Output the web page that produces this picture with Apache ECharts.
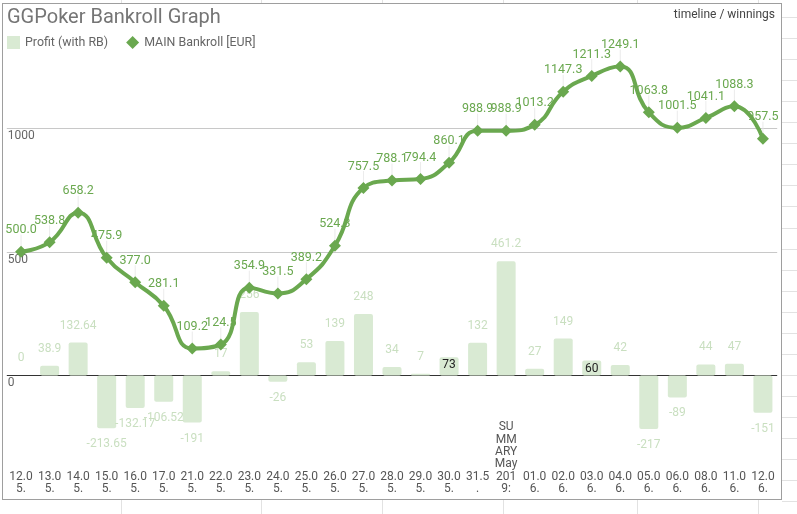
<!DOCTYPE html>
<html>
<head>
<meta charset="utf-8">
<title>GGPoker Bankroll Graph</title>
<script src="https://cdn.jsdelivr.net/npm/echarts@6/dist/echarts.min.js"></script>
<style>
	html, body { margin: 0; padding: 0; background: #fff; }
	body { position: relative; width: 797px; height: 514px; overflow: hidden; font-family: Roboto, sans-serif; }
	.cell-v { position: absolute; top: 0; width: 1px; height: 514px; background: #e2e2e2; }
	.cell-h { position: absolute; left: 782px; width: 15px; height: 1px; background: #e2e2e2; }
	#frame { position: absolute; left: 2px; top: 3px; width: 780px; height: 497px; box-sizing: border-box;
		border: 1px solid #9e9e9e; background: #fff; z-index: 2; }
	#chart { width: 778px; height: 495px; }
</style>
</head>
<body>
<div id="frame"><div id="chart"></div></div>
<script>
// dates of the sessions
var categories = [ '12.05.', '13.05.', '14.05.', '15.05.', '16.05.', '17.05.', '21.05.', '22.05.', '23.05.',
	'24.05.', '25.05.', '26.05.', '27.05.', '28.05.', '29.05.', '30.05.', '31.5.', 'SUMMARY May 2019:',
	'01.06.', '02.06.', '03.06.', '04.06.', '05.06.', '06.06.', '08.06.', '11.06.', '12.06.' ];
// labels as they are wrapped in the picture
var tickLabels = [ '12.0\n5.', '13.0\n5.', '14.0\n5.', '15.0\n5.', '16.0\n5.', '17.0\n5.', '21.0\n5.', '22.0\n5.', '23.0\n5.',
	'24.0\n5.', '25.0\n5.', '26.0\n5.', '27.0\n5.', '28.0\n5.', '29.0\n5.', '30.0\n5.', '31.5\n.', 'SU\nMM\nARY\nMay\n201\n9:',
	'01.0\n6.', '02.0\n6.', '03.0\n6.', '04.0\n6.', '05.0\n6.', '06.0\n6.', '08.0\n6.', '11.0\n6.', '12.0\n6.' ];
// Profit (with RB)
var profit = [ 0, 38.9, 132.64, -213.65, -132.17, -106.52, -191, 17, 256,
	-26, 53, 139, 248, 34, 7, 73, 132, 461.2,
	27, 149, 60, 42, -217, -89, 44, 47, -151 ];
// MAIN Bankroll [EUR]
var bankroll = [ 500.0, 538.8, 658.2, 475.9, 377.0, 281.1, 109.2, 124.5, 354.9,
	331.5, 389.2, 524.3, 757.5, 788.1, 794.4, 860.1, 988.9, 988.9,
	1013.2, 1147.3, 1211.3, 1249.1, 1063.8, 1001.5, 1041.1, 1088.3, 957.5 ];
// bars whose label sits inside the bar
var insideLabel = [ 15, 20 ];

// spreadsheet cells behind the chart
var sheetCols = [ 121, 261, 382, 503, 637, 758 ];
for (var c = 0; c < sheetCols.length; c++) {
	var v = document.createElement('div');
	v.className = 'cell-v';
	v.style.left = sheetCols[c] + 'px';
	document.body.appendChild(v);
}
for (var r = 17; r < 514; r += 21.05) {
	var h = document.createElement('div');
	h.className = 'cell-h';
	h.style.top = Math.round(r) + 'px';
	document.body.appendChild(h);
}

var green = '#6aa84f';
var light = '#d9ead3';

var barData = [];
for (var i = 0; i < profit.length; i++) {
	var item = { value: profit[i] };
	if (insideLabel.indexOf(i) >= 0) {
		item.label = { position: 'insideTop', distance: 2, color: '#222' };
	} else if (profit[i] < 0) {
		item.label = { position: 'bottom', distance: 10 };
	}
	barData.push(item);
}

var chart = echarts.init(document.getElementById('chart'));
var option = {
	animation : false,
	title : [ {
		text : 'GGPoker Bankroll Graph',
		left : 4,
		top : 4,
		padding : 0,
		textStyle : { fontFamily : 'Roboto', fontSize : 20, fontWeight : 'normal', color : '#757575' }
	}, {
		text : 'timeline / winnings',
		right : 6,
		top : 5,
		padding : 0,
		textStyle : { fontFamily : 'Roboto', fontSize : 12, fontWeight : 'normal', color : '#444' }
	} ],
	legend : {
		left : 4,
		top : 32,
		padding : 0,
		itemWidth : 13,
		itemHeight : 13,
		itemGap : 18,
		textStyle : { fontFamily : 'Roboto', fontSize : 12.4, color : '#666' },
		data : [ { name : 'Profit (with RB)', icon : 'rect' }, { name : 'MAIN Bankroll [EUR]', icon : 'diamond' } ]
	},
	grid : {
		left : 3.8,
		top : 0.5,
		width : 770.4,
		height : 496,
		containLabel : false
	},
	xAxis : {
		type : 'category',
		data : categories,
		axisLine : { show : false },
		axisTick : { show : false },
		axisLabel : {
			inside : true,
			interval : 0,
			margin : 4,
			verticalAlign : 'bottom',
			fontFamily : 'Roboto',
			fontSize : 12,
			lineHeight : 12.3,
			color : '#555',
			formatter : function(val, idx) {
				return tickLabels[idx];
			}
		}
	},
	yAxis : {
		type : 'value',
		min : -500,
		max : 1500,
		interval : 500,
		axisLine : { show : false },
		axisTick : { show : false },
		splitLine : {
			lineStyle : { color : [ 'rgba(0,0,0,0)', '#333', '#c8c8c8', '#c8c8c8', 'rgba(0,0,0,0)' ], width : 1 }
		},
		axisLabel : {
			inside : true,
			margin : 1,
			verticalAlign : 'top',
			padding : [ 2, 0, 0, 0 ],
			fontFamily : 'Roboto',
			fontSize : 12,
			color : '#666',
			formatter : function(val) {
				return (val < 0 || val > 1000) ? '' : val;
			}
		}
	},
	series : [ {
		name : 'Profit (with RB)',
		type : 'bar',
		data : barData,
		barWidth : 19,
		itemStyle : { color : light, borderRadius : 2 },
		label : {
			show : true,
			position : 'top',
			distance : 11,
			fontFamily : 'Roboto',
			fontSize : 12,
			color : '#c9dfc0'
		},
		z : 1
	}, {
		// thin stems under the bankroll labels
		name : 'stem',
		type : 'scatter',
		data : bankroll,
		symbol : 'rect',
		symbolSize : [ 1, 12 ],
		symbolOffset : [ 0, -11 ],
		itemStyle : { color : '#e6e6e6' },
		silent : true,
		z : 2
	}, {
		name : 'MAIN Bankroll [EUR]',
		type : 'line',
		data : bankroll,
		smooth : 0.5,
		symbol : 'diamond',
		symbolSize : 12,
		showAllSymbol : true,
		lineStyle : { color : green, width : 4 },
		itemStyle : { color : green },
		label : {
			show : true,
			position : 'top',
			distance : 9,
			fontFamily : 'Roboto',
			fontSize : 12.5,
			color : green,
			formatter : function(p) {
				return p.value.toFixed(1);
			}
		},
		z : 3
	} ]
};
chart.setOption(option);
</script>
</body>
</html>
